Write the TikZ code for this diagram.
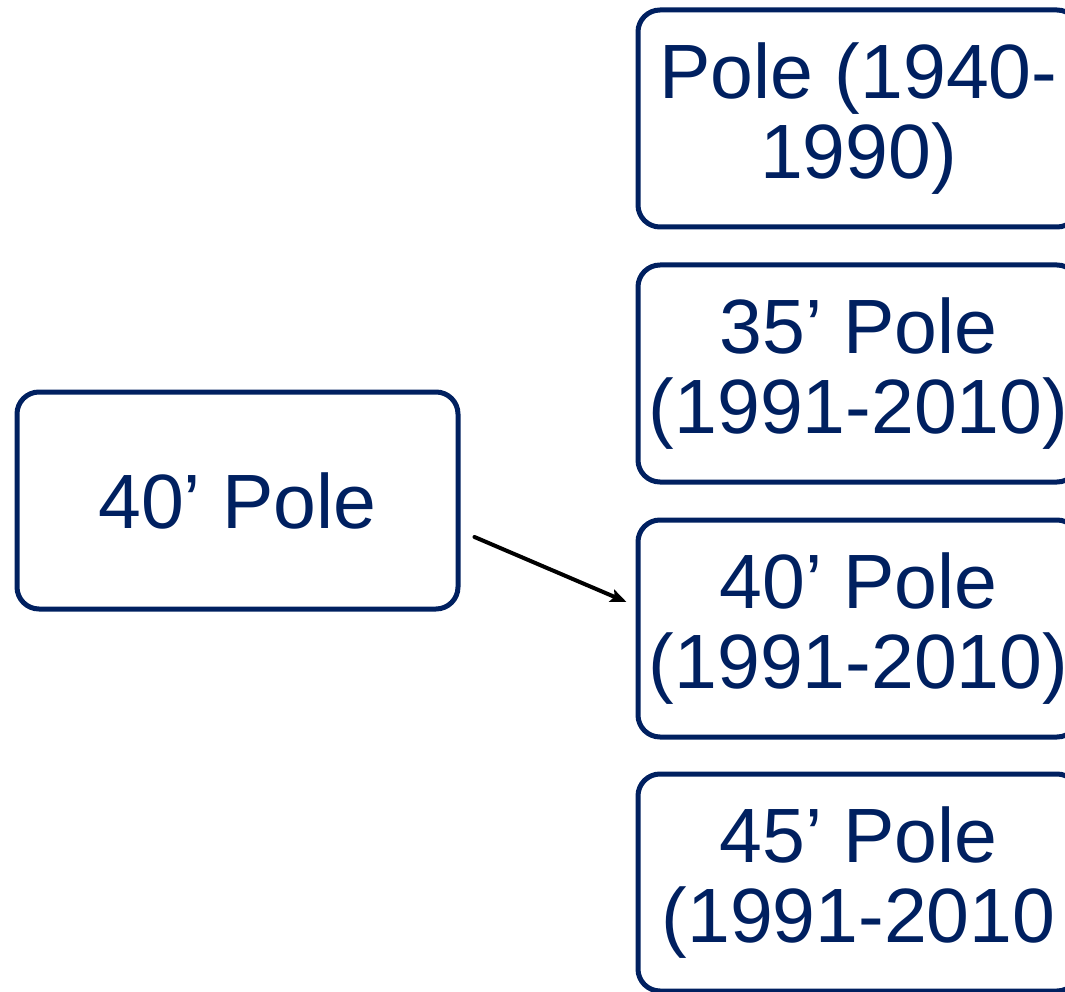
\documentclass[tikz,border=0pt]{standalone}
\usepackage{fontspec}
\setmainfont{Liberation Sans}
\usetikzlibrary{arrows.meta}
\definecolor{navy}{HTML}{002060}
\begin{document}
\begin{tikzpicture}[x=1pt,y=1pt, line join=round, line cap=round,
	polebox/.style={draw=navy, line width=5pt, rounded corners=22pt, text=navy,
		minimum width=441pt, minimum height=217pt, align=center, inner sep=0pt,
		font=\fontsize{77}{80}\selectfont}]
		\def\W{1065} \def\H{992} % size of the picture
		\useasboundingbox (0,0) rectangle (\W,-\H);
		\clip (0,0) rectangle (\W,-\H);
		\node[polebox] (pole) at (237.5,-500.5) {40’ Pole};
		\node[polebox] (old) at (858.5,-118.5) {Pole (1940-\\1990)};
		\node[polebox] (p35) at (858.5,-373.5) {35’ Pole\\(1991-2010)};
		\node[polebox] (p40) at (858.5,-628.5) {40’ Pole\\(1991-2010)};
		\node[polebox] (p45) at (858.5,-882.5) {45’ Pole\\(1991-2010};
		\draw[line width=4pt,-{Stealth[length=16pt,width=13pt,inset=3pt]}] ([shift={(14pt,-36.5pt)}]pole.east) -- ([shift={(-9pt,26.5pt)}]p40.west);
\end{tikzpicture}
\end{document}
